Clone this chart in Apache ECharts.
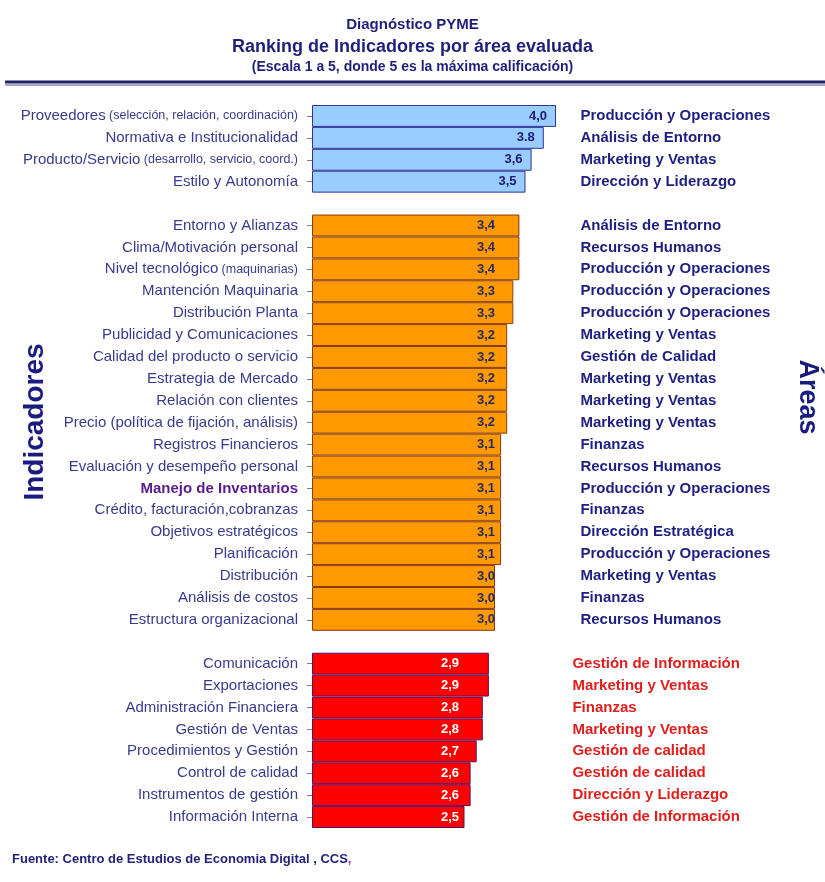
<!DOCTYPE html>
<html>
<head>
<meta charset="utf-8">
<title>Diagnóstico PYME</title>
<script src="https://cdn.jsdelivr.net/npm/echarts@6/dist/echarts.min.js"></script>
<style>
  html, body { margin: 0; padding: 0; background: #ffffff; }
  #chart { width: 825px; height: 882px; }
</style>
</head>
<body>
<div id="chart"></div>
<script>
// ---- Data: three groups of indicators (scale 1 to 5) ----
const blueNames = ['Proveedores', 'Normativa e Institucionalidad', 'Producto/Servicio', 'Estilo y Autonomía'];
const blueNotes = ['(selección, relación, coordinación)', '', '(desarrollo, servicio, coord.)', ''];
const blueValues = [4.0, 3.8, 3.6, 3.5];
const blueDecimal = [',', '.', ',', ','];
const blueAreas = ['Producción y Operaciones', 'Análisis de Entorno', 'Marketing y Ventas', 'Dirección y Liderazgo'];

const orangeNames = ['Entorno y Alianzas', 'Clima/Motivación personal', 'Nivel tecnológico', 'Mantención Maquinaria',
  'Distribución Planta', 'Publicidad y Comunicaciones', 'Calidad del producto o servicio', 'Estrategia de Mercado',
  'Relación con clientes', 'Precio (política de fijación, análisis)', 'Registros Financieros',
  'Evaluación y desempeño personal', 'Manejo de Inventarios', 'Crédito, facturación,cobranzas',
  'Objetivos estratégicos', 'Planificación', 'Distribución', 'Análisis de costos', 'Estructura organizacional'];
const orangeNotes = ['', '', '(maquinarias)', '', '', '', '', '', '', '', '', '', '', '', '', '', '', '', ''];
const orangeValues = [3.4, 3.4, 3.4, 3.3, 3.3, 3.2, 3.2, 3.2, 3.2, 3.2, 3.1, 3.1, 3.1, 3.1, 3.1, 3.1, 3.0, 3.0, 3.0];
const orangeAreas = ['Análisis de Entorno', 'Recursos Humanos', 'Producción y Operaciones', 'Producción y Operaciones',
  'Producción y Operaciones', 'Marketing y Ventas', 'Gestión de Calidad', 'Marketing y Ventas', 'Marketing y Ventas',
  'Marketing y Ventas', 'Finanzas', 'Recursos Humanos', 'Producción y Operaciones', 'Finanzas',
  'Dirección Estratégica', 'Producción y Operaciones', 'Marketing y Ventas', 'Finanzas', 'Recursos Humanos'];

const redNames = ['Comunicación', 'Exportaciones', 'Administración Financiera', 'Gestión de Ventas',
  'Procedimientos y Gestión', 'Control de calidad', 'Instrumentos de gestión', 'Información Interna'];
const redValues = [2.9, 2.9, 2.8, 2.8, 2.7, 2.6, 2.6, 2.5];
const redAreas = ['Gestión de Información', 'Marketing y Ventas', 'Finanzas', 'Marketing y Ventas',
  'Gestión de calidad', 'Gestión de calidad', 'Dirección y Liderazgo', 'Gestión de Información'];

const highlighted = 'Manejo de Inventarios';

// ---- Build one category axis with an empty row between groups ----
const categories = [], notes = [], areas = [], groupOf = [];
const blueData = [], orangeData = [], redData = [];
function addGroup(names, groupNotes, values, groupAreas, key) {
  names.forEach((n, i) => {
    categories.push(n);
    notes.push(groupNotes ? groupNotes[i] : '');
    areas.push(groupAreas[i]);
    groupOf.push(key);
    blueData.push(key === 'blue' ? values[i] : null);
    orangeData.push(key === 'orange' ? values[i] : null);
    redData.push(key === 'red' ? values[i] : null);
  });
}
function addGap() {
  categories.push(''); notes.push(''); areas.push(''); groupOf.push('gap');
  blueData.push(null); orangeData.push(null); redData.push(null);
}
addGroup(blueNames, blueNotes, blueValues, blueAreas, 'blue');
addGap();
addGroup(orangeNames, orangeNotes, orangeValues, orangeAreas, 'orange');
addGap();
addGroup(redNames, null, redValues, redAreas, 'red');

const navy = '#1f1f7a';
const labelNavy = '#3a3a8c';
const font = 'Liberation Sans, Arial';
const fmt = (v, sep) => v.toFixed(1).replace('.', sep || ',');

const chart = echarts.init(document.getElementById('chart'));
chart.setOption({
  backgroundColor: '#ffffff',
  animation: false,
  title: [
    { text: 'Diagnóstico PYME', left: 'center', top: 12,
      textStyle: { fontFamily: font, fontSize: 15, fontWeight: 'bold', color: navy } },
    { text: 'Ranking de Indicadores por área evaluada', left: 'center', top: 33,
      textStyle: { fontFamily: font, fontSize: 18, fontWeight: 'bold', color: navy } },
    { text: '(Escala 1 a 5, donde 5 es la máxima calificación)', left: 'center', top: 55,
      textStyle: { fontFamily: font, fontSize: 14, fontWeight: 'bold', color: navy } }
  ],
  graphic: [
    { type: 'line', shape: { x1: 5, y1: 85, x2: 825, y2: 85 }, style: { stroke: '#a8a8c4', lineWidth: 2 } },
    { type: 'line', shape: { x1: 5, y1: 82, x2: 825, y2: 82 }, style: { stroke: '#202066', lineWidth: 3 } },
    { type: 'text', x: 35, y: 422, rotation: Math.PI / 2,
      style: { text: 'Indicadores', fill: '#1a1a80', font: 'bold 28px "Liberation Sans", Arial',
        textAlign: 'center', textVerticalAlign: 'middle' } },
    { type: 'text', x: 807, y: 397, rotation: -Math.PI / 2,
      style: { text: 'Áreas', fill: '#1a1a80', font: 'bold 27px "Liberation Sans", Arial',
        textAlign: 'center', textVerticalAlign: 'middle' } },
    { type: 'text', x: 12, y: 853,
      style: { text: '{a|Fuente: Centro de Estudios de Economia Digital , CCS}{b|,}',
        rich: {
          a: { fill: '#22227a', font: 'bold 13px "Liberation Sans", Arial' },
          b: { fill: '#9933cc', font: 'bold 13px "Liberation Sans", Arial' }
        } } }
  ],
  grid: { left: 312, top: 105, width: 268.4, height: 723, containLabel: false },
  xAxis: { type: 'value', min: 0, max: 4.4, show: false },
  yAxis: [
    {
      type: 'category', inverse: true, data: categories, position: 'left',
      axisLine: { show: false },
      axisTick: { show: true, length: 5, alignWithLabel: true, lineStyle: { color: '#7777aa' },
        interval: (idx) => groupOf[idx] !== 'gap' },
      axisLabel: {
        interval: 0, margin: 14,
        formatter: (value, idx) => {
          if (!value) return '';
          if (value === highlighted) return '{h|' + value + '}';
          return notes[idx] ? '{n|' + value + '} {s|' + notes[idx] + '}' : '{n|' + value + '}';
        },
        rich: {
          n: { fontFamily: font, fontSize: 15, color: labelNavy },
          s: { fontFamily: font, fontSize: 12.5, color: labelNavy },
          h: { fontFamily: font, fontSize: 15, fontWeight: 'bold', color: '#5a1a8c' }
        }
      }
    },
    {
      type: 'category', inverse: true, data: areas, position: 'right', offset: -8,
      axisLine: { show: false }, axisTick: { show: false },
      axisLabel: {
        interval: 0, margin: 0, align: 'left',
        formatter: (value, idx) => {
          if (!value) return '';
          return groupOf[idx] === 'red' ? '{r|' + value + '}' : '{a|' + value + '}';
        },
        rich: {
          a: { fontFamily: font, fontSize: 15, fontWeight: 'bold', color: '#1f1f80', padding: [0, 0, 0, 8] },
          r: { fontFamily: font, fontSize: 15, fontWeight: 'bold', color: '#e0201e' }
        }
      }
    }
  ],
  series: [
    {
      name: 'Alto', type: 'bar', stack: 'all', data: blueData, barCategoryGap: 0,
      itemStyle: { color: '#99ccff', borderColor: '#333399', borderWidth: 1 },
      label: { show: true, position: 'insideRight', distance: 9,
        formatter: (p) => fmt(p.value, blueDecimal[p.dataIndex]),
        fontFamily: font, fontSize: 13, fontWeight: 'bold', color: '#1a1a6e' }
    },
    {
      name: 'Medio', type: 'bar', stack: 'all', data: orangeData, barCategoryGap: 0,
      itemStyle: { color: '#ff9900', borderColor: '#8a3a10', borderWidth: 1 },
      label: { show: true, position: [174, '50%'], align: 'center', verticalAlign: 'middle',
        formatter: (p) => fmt(p.value),
        fontFamily: font, fontSize: 13, fontWeight: 'bold', color: '#2a2a5e' }
    },
    {
      name: 'Bajo', type: 'bar', stack: 'all', data: redData, barCategoryGap: 0,
      itemStyle: { color: '#ff0000', borderColor: '#5a1060', borderWidth: 1 },
      label: { show: true, position: [138, '50%'], align: 'center', verticalAlign: 'middle',
        formatter: (p) => fmt(p.value),
        fontFamily: font, fontSize: 13, fontWeight: 'bold', color: '#ffffff' }
    }
  ]
});
</script>
</body>
</html>
